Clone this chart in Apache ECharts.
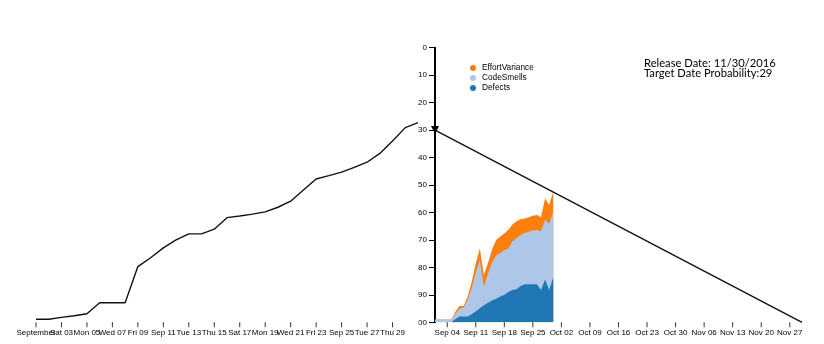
<!DOCTYPE html>
<html><head><meta charset="utf-8">
<script src="https://cdn.jsdelivr.net/npm/echarts@6/dist/echarts.min.js"></script>
<style>html,body{margin:0;padding:0;background:#fff}#c{width:824px;height:344px}</style>
</head><body><div id="c"></div>
<script>
// ---- data ----
const burnDates = ['2016-09-01','2016-09-02','2016-09-03','2016-09-04','2016-09-05','2016-09-06','2016-09-07','2016-09-08','2016-09-09','2016-09-10','2016-09-11','2016-09-12','2016-09-13','2016-09-14','2016-09-15','2016-09-16','2016-09-17','2016-09-18','2016-09-19','2016-09-20','2016-09-21','2016-09-22','2016-09-23','2016-09-24','2016-09-25','2016-09-26','2016-09-27','2016-09-28','2016-09-29','2016-09-30','2016-10-01'];
const burnValues = [98.9,98.9,98.2,97.6,96.9,92.9,92.9,92.9,79.7,76.5,72.9,70,67.8,67.8,66.1,61.9,61.3,60.6,59.8,58.1,55.9,51.8,47.8,46.6,45.3,43.6,41.7,38.5,34,29.1,27.3];

const stackDates = burnDates.slice(0, 30);
const defects        = [0,0,0,0,0,1.2,2.1,2.1,2.1,2.9,4.0,5.1,6.2,7.1,7.9,8.6,9.4,10,11,11.8,12,13.2,13.9,13.9,13.9,13.9,11.8,15.6,11.8,16.4];
const codeSmells     = [1,1,1,1,1,1.8,2.8,3.3,6.0,9.6,14,17.6,6.8,10.7,13.9,15.7,15.8,16.3,15.9,17.6,18.7,18.5,18.6,19.1,19.5,19.7,21.4,21.7,24.2,23.9];
const effortVariance = [0,0,0,0,0,0.8,1.0,0.5,1.2,2.3,3.5,4.2,4.2,3.8,4.7,5.7,6,6,6.8,6.2,6.1,5.8,5.3,5.3,5.4,5.5,5.1,7.9,6.7,7.3];

const targetDates  = ['2016-09-01','2016-11-30'];
const targetValues = [30, 100];

const leftTickDates  = ['2016-09-01','2016-09-03','2016-09-05','2016-09-07','2016-09-09','2016-09-11','2016-09-13','2016-09-15','2016-09-17','2016-09-19','2016-09-21','2016-09-23','2016-09-25','2016-09-27','2016-09-29'];
const leftTickLabels = ['September','Sat 03','Mon 05','Wed 07','Fri 09','Sep 11','Tue 13','Thu 15','Sat 17','Mon 19','Wed 21','Fri 23','Sep 25','Tue 27','Thu 29'];
const rightTickDates  = ['2016-09-04','2016-09-11','2016-09-18','2016-09-25','2016-10-02','2016-10-09','2016-10-16','2016-10-23','2016-10-30','2016-11-06','2016-11-13','2016-11-20','2016-11-27'];
const rightTickLabels = ['Sep 04','Sep 11','Sep 18','Sep 25','Oct 02','Oct 09','Oct 16','Oct 23','Oct 30','Nov 06','Nov 13','Nov 20','Nov 27'];

const legendNames = ['EffortVariance','CodeSmells','Defects'];
const titleLines = ['Release Date: 11/30/2016','Target Date Probability:29'];

// ---- build ----
const ORIGIN = Date.parse('2016-09-01');
const day = s => (Date.parse(s) - ORIGIN) / 864e5;
const leftTickDays = leftTickDates.map(day);
const rightTickDays = rightTickDates.map(day);
const lookup = (days, labels) => v => { const i = days.findIndex(d => Math.abs(d - v) < 1e-6); return i < 0 ? '' : labels[i]; };

// cumulative stack (bottom: Defects, then CodeSmells, then EffortVariance)
const cumD = defects.slice();
const cumC = codeSmells.map((v, i) => v + cumD[i]);
const cumE = effortVariance.map((v, i) => v + cumC[i]);

const FONT = '"Liberation Sans", Arial, sans-serif';
const black = '#000';

const chart = echarts.init(document.getElementById('c'), null, {renderer: 'canvas'});
const xAxisDef = (grid, max, labelDays, labelDays2, labels) => ({
  gridIndex: grid, type: 'value', min: 0, max: max, position: 'bottom', offset: 0,
  axisLine: {show: false, onZero: false}, splitLine: {show: false},
  axisTick: {show: false},
  axisLabel: {customValues: labelDays, formatter: lookup(labelDays2, labels), fontSize: 8, color: black, margin: 6,
              fontFamily: FONT, showMinLabel: true, showMaxLabel: true, hideOverlap: false}
});

const areaSeries = (name, color, vals) => ({
  type: 'line', name: name, xAxisIndex: 1, yAxisIndex: 2, symbol: 'none', showSymbol: false,
  itemStyle: {color: color}, lineStyle: {width: 0}, areaStyle: {color: color, opacity: 1},
  data: stackDates.map((d, i) => [day(d), vals[i]])
});

// tick marks placed on the axis baseline (value 100 of the inverted scale), drawn downward
const tickSeries = (xi, yi, days) => ({
  type: 'scatter', xAxisIndex: xi, yAxisIndex: yi, silent: true, clip: false, z: 10,
  symbol: 'rect', symbolSize: [1, 5], symbolOffset: [0, 2.5],
  itemStyle: {color: black}, data: days.map(d => [d, 100])
});

const option = {
  animation: false,
  backgroundColor: '#fff',
  title: {
    text: titleLines.join('\n'), left: 644, top: 58, padding: 0,
    textStyle: {fontFamily: 'Lato', fontSize: 11.2, fontWeight: 'normal', color: '#000', lineHeight: 10.5}
  },
  legend: {
    data: legendNames, orient: 'vertical', left: 470, top: 64, padding: 0,
    icon: 'circle', itemWidth: 6, itemHeight: 6, itemGap: 2,
    textStyle: {fontSize: 8.3, color: black, fontFamily: FONT, padding: [0,0,0,1]}
  },
  grid: [
    {left: 36, top: 47.7, width: 382, height: 274.6},
    {left: 435, top: 47.7, width: 367, height: 274.6}
  ],
  xAxis: [
    xAxisDef(0, 30, leftTickDays.slice(1), leftTickDays, leftTickLabels),
    xAxisDef(1, 90, rightTickDays, rightTickDays, rightTickLabels),
    xAxisDef(0, 30, leftTickDays.slice(0, 1), leftTickDays, leftTickLabels)
  ],
  yAxis: [
    {gridIndex: 0, type: 'value', min: 0, max: 100, inverse: true, show: false},
    {gridIndex: 1, type: 'value', min: 0, max: 100, interval: 10, inverse: true, position: 'left',
     axisLine: {show: true, onZero: false, lineStyle: {color: black, width: 2}},
     axisTick: {show: true, length: 6, lineStyle: {color: black, width: 1}},
     axisLabel: {fontSize: 8, color: black, margin: 8, fontFamily: FONT, showMinLabel: true, showMaxLabel: true},
     splitLine: {show: false}},
    {gridIndex: 1, type: 'value', min: 0, max: 100, show: false}
  ],
  series: [
    {type: 'line', name: 'burn', xAxisIndex: 0, yAxisIndex: 0, showSymbol: false, symbol: 'none',
     lineStyle: {color: '#111', width: 1.4}, data: burnDates.map((d, i) => [day(d), burnValues[i]]), z: 5},
    areaSeries('EffortVariance', '#ff7f0e', cumE),
    areaSeries('CodeSmells', '#aec7e8', cumC),
    areaSeries('Defects', '#1f77b4', cumD),
    {type: 'line', name: 'target', xAxisIndex: 1, yAxisIndex: 1, z: 6,
     lineStyle: {color: '#111', width: 1.4}, itemStyle: {color: '#000'},
     data: targetDates.map((d, i) => i === 0
       ? {value: [day(d), targetValues[i]], symbol: 'triangle', symbolSize: 8, symbolRotate: 180}
       : {value: [day(d), targetValues[i]], symbol: 'none'})},
    tickSeries(0, 0, leftTickDays),
    tickSeries(1, 1, rightTickDays)
  ],
  graphic: [
    {type: 'rect', shape: {x: 404, y: 316, width: 14.4, height: 12}, style: {fill: '#fff'}, z: 100}
  ]
};
chart.setOption(option);
</script>
</body></html>
